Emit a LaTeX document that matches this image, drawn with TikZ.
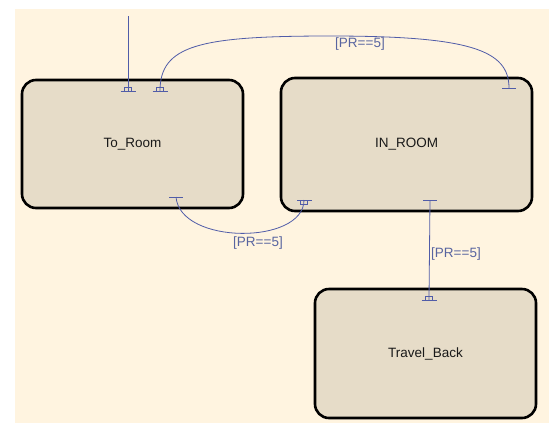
\documentclass[tikz,border=0pt]{standalone}
\usepackage{fontspec}
\setmainfont{Liberation Sans}
\definecolor{cream}{RGB}{255,244,224}
\definecolor{boxfill}{RGB}{230,220,200}
\definecolor{trans}{RGB}{80,92,168}
\definecolor{lbl}{RGB}{88,100,160}
\begin{document}
\begin{tikzpicture}[x=1pt,y=-1pt,
  state/.style={draw=black,fill=boxfill,line width=2.6pt,rounded corners=14pt,
    inner sep=0pt,font=\fontsize{13.5}{15}\selectfont,text=black!90},
  tline/.style={draw=trans,line width=0.8pt},
  glabel/.style={text=lbl,font=\fontsize{13.5}{15}\selectfont,inner sep=1pt},
  endmark/.pic={\draw[trans,line width=0.8pt] (-7.5,0)--(7.5,0);
                \draw[trans,line width=0.8pt] (-3.5,0) rectangle (3.5,-4);},
  startmark/.pic={\draw[trans,line width=0.8pt] (-7,0)--(7,0);}
]
\useasboundingbox (0,0) rectangle (549,424);
\fill[cream] (15,9) rectangle (549,423);

\node[state,minimum width=221pt,minimum height=128pt] (toroom) at (132.5,144) {To\_Room};
\node[state,minimum width=251pt,minimum height=133pt] (inroom) at (406.5,144.5) {IN\_ROOM};
\node[state,minimum width=221pt,minimum height=129pt] (travel) at (425.5,353.5) {Travel\_Back};

% connector end points
\coordinate (init) at (128,16);
\coordinate (d0) at (128,91);
\coordinate (s1) at (509,88);
\coordinate (e1) at (160,91);
\coordinate (s2) at (176,197);
\coordinate (e2) at (304,200);
\coordinate (s3) at (430,200);
\coordinate (e3) at (429,300);

% default transition
\draw[tline] (init) -- (d0);
\pic at (d0) {endmark};

% IN_ROOM -> To_Room
\draw[tline] (s1) .. controls (509,50) and (470,36) .. (330,36)
  .. controls (200,36) and (160,45) .. (e1);
\pic at (s1) {startmark};
\pic at (e1) {endmark};
\node[glabel] (l1) at (360,44) {[PR==5]};

% To_Room -> IN_ROOM
\draw[tline] (s2) .. controls (180,245) and (304,245) .. (e2);
\pic at (s2) {startmark};
\pic[rotate=180] at (e2) {endmark};
\node[glabel] (l2) at (258,243) {[PR==5]};

% IN_ROOM -> Travel_Back
\draw[tline] (s3) -- (e3);
\pic at (s3) {startmark};
\pic at (e3) {endmark};
\node[glabel] (l3) at (456,254) {[PR==5]};
\end{tikzpicture}
\end{document}
